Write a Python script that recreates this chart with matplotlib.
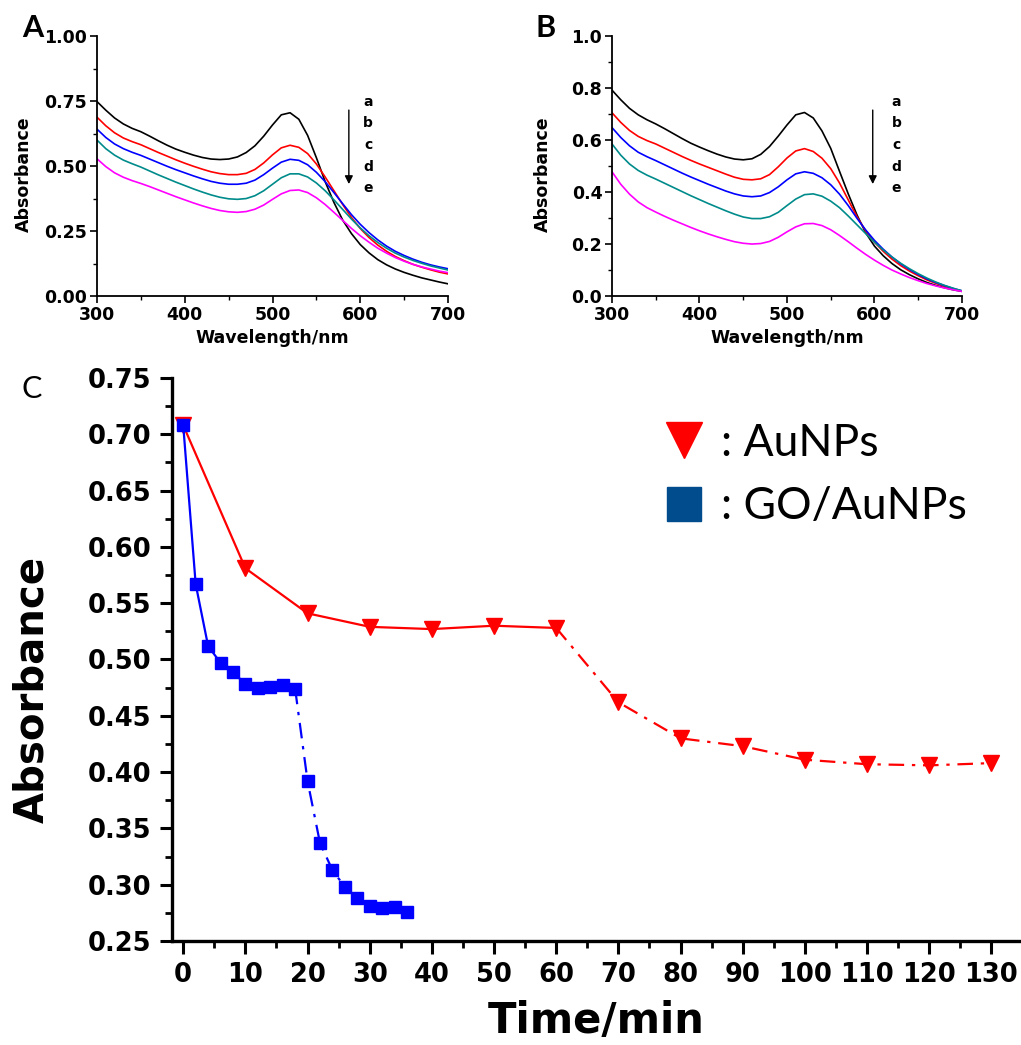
import numpy as np
import matplotlib
matplotlib.use('Agg')
import matplotlib.pyplot as plt
from matplotlib.lines import Line2D
from matplotlib.ticker import MultipleLocator, FormatStrFormatter

plt.rcParams['font.family'] = 'DejaVu Sans'
plt.rcParams['font.weight'] = 'bold'
plt.rcParams['axes.labelweight'] = 'bold'

# ---- panel A / B spectra (every 10 nm) ----
wavelength = list(range(300, 701, 10))

a_black = [0.748, 0.715, 0.685, 0.662, 0.645, 0.632, 0.615, 0.597, 0.580, 0.565, 0.553,
           0.542, 0.533, 0.527, 0.525, 0.527, 0.535, 0.552, 0.578, 0.615, 0.658, 0.697,
           0.705, 0.680, 0.618, 0.532, 0.440, 0.360, 0.292, 0.240, 0.198, 0.166, 0.140,
           0.120, 0.104, 0.091, 0.080, 0.070, 0.062, 0.054, 0.047]
a_red = [0.688, 0.655, 0.628, 0.608, 0.594, 0.582, 0.567, 0.552, 0.538, 0.524, 0.511,
         0.499, 0.488, 0.478, 0.471, 0.467, 0.467, 0.472, 0.487, 0.512, 0.543, 0.570,
         0.580, 0.572, 0.548, 0.508, 0.458, 0.405, 0.352, 0.302, 0.260, 0.225, 0.196,
         0.172, 0.152, 0.136, 0.122, 0.111, 0.101, 0.092, 0.085]
a_blue = [0.642, 0.610, 0.585, 0.567, 0.553, 0.541, 0.527, 0.513, 0.499, 0.486, 0.474,
          0.462, 0.451, 0.441, 0.434, 0.430, 0.430, 0.434, 0.446, 0.467, 0.492, 0.515,
          0.526, 0.522, 0.505, 0.476, 0.440, 0.398, 0.355, 0.313, 0.276, 0.244, 0.216,
          0.192, 0.172, 0.156, 0.142, 0.130, 0.120, 0.112, 0.105]
a_teal = [0.600, 0.567, 0.542, 0.523, 0.509, 0.496, 0.481, 0.466, 0.452, 0.438, 0.425,
          0.412, 0.400, 0.389, 0.380, 0.374, 0.372, 0.375, 0.386, 0.405, 0.430, 0.455,
          0.470, 0.470, 0.458, 0.435, 0.405, 0.370, 0.333, 0.296, 0.262, 0.232, 0.206,
          0.184, 0.165, 0.150, 0.137, 0.126, 0.116, 0.108, 0.100]
a_magenta = [0.528, 0.498, 0.474, 0.457, 0.444, 0.433, 0.421, 0.408, 0.395, 0.382, 0.370,
             0.358, 0.347, 0.337, 0.329, 0.324, 0.322, 0.325, 0.334, 0.350, 0.372, 0.393,
             0.406, 0.408, 0.398, 0.378, 0.352, 0.322, 0.291, 0.260, 0.232, 0.207, 0.184,
             0.165, 0.148, 0.134, 0.122, 0.112, 0.104, 0.096, 0.090]

b_black = [0.792, 0.755, 0.722, 0.697, 0.678, 0.662, 0.644, 0.625, 0.606, 0.588, 0.573,
           0.559, 0.546, 0.535, 0.527, 0.524, 0.528, 0.545, 0.575, 0.615, 0.658, 0.697,
           0.706, 0.685, 0.635, 0.568, 0.480, 0.393, 0.312, 0.243, 0.192, 0.155, 0.125,
           0.101, 0.082, 0.066, 0.052, 0.041, 0.032, 0.024, 0.018]
b_red = [0.705, 0.668, 0.637, 0.614, 0.598, 0.585, 0.569, 0.553, 0.537, 0.522, 0.508,
         0.495, 0.482, 0.469, 0.457, 0.449, 0.447, 0.451, 0.467, 0.497, 0.531, 0.558,
         0.567, 0.556, 0.530, 0.490, 0.435, 0.370, 0.305, 0.250, 0.207, 0.172, 0.142,
         0.117, 0.096, 0.078, 0.062, 0.049, 0.037, 0.027, 0.019]
b_blue = [0.648, 0.610, 0.578, 0.553, 0.536, 0.521, 0.505, 0.489, 0.473, 0.458, 0.444,
          0.430, 0.417, 0.404, 0.393, 0.385, 0.382, 0.385, 0.398, 0.420, 0.447, 0.470,
          0.478, 0.472, 0.455, 0.428, 0.392, 0.348, 0.299, 0.254, 0.214, 0.180, 0.150,
          0.124, 0.102, 0.083, 0.066, 0.052, 0.040, 0.029, 0.020]
b_teal = [0.585, 0.542, 0.508, 0.483, 0.465, 0.450, 0.434, 0.418, 0.402, 0.386, 0.371,
          0.356, 0.342, 0.328, 0.315, 0.304, 0.298, 0.298, 0.305, 0.322, 0.348, 0.373,
          0.390, 0.393, 0.384, 0.365, 0.340, 0.308, 0.274, 0.240, 0.207, 0.177, 0.150,
          0.126, 0.105, 0.086, 0.069, 0.054, 0.041, 0.030, 0.020]
b_magenta = [0.478, 0.430, 0.392, 0.362, 0.340, 0.323, 0.307, 0.292, 0.278, 0.264, 0.251,
             0.239, 0.228, 0.218, 0.209, 0.203, 0.200, 0.202, 0.210, 0.226, 0.247, 0.266,
             0.278, 0.279, 0.271, 0.255, 0.233, 0.209, 0.184, 0.160, 0.138, 0.118, 0.100,
             0.085, 0.071, 0.059, 0.048, 0.039, 0.031, 0.024, 0.018]

curve_labels = ['a', 'b', 'c', 'd', 'e']
curve_colors = ['black', '#ff0000', '#0000ff', '#008b8b', '#ff00ff']

# ---- panel C kinetics ----
au_time = [0, 10, 20, 30, 40, 50, 60, 70, 80, 90, 100, 110, 120, 130]
au_abs = [0.708, 0.581, 0.541, 0.529, 0.527, 0.530, 0.528, 0.462, 0.430, 0.423,
          0.411, 0.407, 0.406, 0.408]
go_time = [0, 2, 4, 6, 8, 10, 12, 14, 16, 18, 20, 22, 24, 26, 28, 30, 32, 34, 36]
go_abs = [0.708, 0.567, 0.512, 0.497, 0.489, 0.478, 0.475, 0.476, 0.477, 0.474,
          0.392, 0.337, 0.313, 0.298, 0.288, 0.281, 0.279, 0.280, 0.276]
au_break = 60   # solid up to here, dash-dot after
go_break = 18

fig = plt.figure(figsize=(10.21, 10.45), dpi=100)


def spectra_panel(ax, curves, ymax, ymajor, yfmt, arrow_x, letter_x, ylab_x):
    for vals, col in zip(curves, curve_colors):
        ax.plot(wavelength, vals, color=col, lw=1.2)
    ax.set_xlim(300, 700)
    ax.set_ylim(0, ymax)
    ax.xaxis.set_major_locator(MultipleLocator(100))
    ax.xaxis.set_minor_locator(MultipleLocator(50))
    ax.yaxis.set_major_locator(MultipleLocator(ymajor))
    ax.yaxis.set_minor_locator(MultipleLocator(ymajor / 2))
    ax.yaxis.set_major_formatter(FormatStrFormatter(yfmt))
    for s in ['top', 'right']:
        ax.spines[s].set_visible(False)
    for s in ['left', 'bottom']:
        ax.spines[s].set_linewidth(1.3)
    ax.tick_params(which='major', direction='out', length=5, width=1.2, labelsize=12.5, pad=2)
    ax.tick_params(which='minor', direction='out', length=3, width=1.0)
    ax.set_xlabel('Wavelength/nm', fontsize=12.5, labelpad=4)
    ax.set_ylabel('Absorbance', fontsize=12.5)
    ax.yaxis.set_label_coords(ylab_x, 0.47)
    ax.annotate('', xy=(arrow_x, 0.42 * ymax), xytext=(arrow_x, 0.726 * ymax),
                arrowprops=dict(arrowstyle='-|>', color='black', lw=1.0, mutation_scale=12))
    for i, lab in enumerate(curve_labels):
        ax.text(letter_x, (0.747 - 0.0832 * i) * ymax, lab, fontsize=10, ha='center', va='center')


axA = fig.add_axes([0.095, 0.7167, 0.3438, 0.2488])
spectra_panel(axA, [a_black, a_red, a_blue, a_teal, a_magenta], 1.0, 0.25, '%.2f', 587, 609, -0.182)

axB = fig.add_axes([0.5994, 0.7167, 0.3428, 0.2488])
spectra_panel(axB, [b_black, b_red, b_blue, b_teal, b_magenta], 1.0, 0.2, '%.1f', 598, 625, -0.171)

axC = fig.add_axes([0.1685, 0.0995, 0.8305, 0.5388])
ia = au_time.index(au_break)
ig = go_time.index(go_break)
axC.plot(au_time[:ia + 1], au_abs[:ia + 1], color='#ff0000', lw=1.6, ls='-')
axC.plot(au_time[ia:], au_abs[ia:], color='#ff0000', lw=1.6, ls=(0, (7, 3.5, 1.5, 3.5)))
axC.plot(au_time, au_abs, color='#ff0000', ls='none', marker='v', ms=11)
axC.plot(go_time[:ig + 1], go_abs[:ig + 1], color='#0000ff', lw=1.6, ls='-')
axC.plot(go_time[ig:], go_abs[ig:], color='#0000ff', lw=1.6, ls=(0, (7, 3.5, 1.5, 3.5)))
axC.plot(go_time, go_abs, color='#0000ff', ls='none', marker='s', ms=9)

axC.set_xlim(-1.8, 134.6)
axC.set_ylim(0.25, 0.75)
axC.xaxis.set_major_locator(MultipleLocator(10))
axC.xaxis.set_minor_locator(MultipleLocator(5))
axC.yaxis.set_major_locator(MultipleLocator(0.05))
axC.yaxis.set_minor_locator(MultipleLocator(0.025))
axC.yaxis.set_major_formatter(FormatStrFormatter('%.2f'))
for s in ['top', 'right']:
    axC.spines[s].set_visible(False)
for s in ['left', 'bottom']:
    axC.spines[s].set_linewidth(2.4)
axC.tick_params(which='major', direction='out', length=9, width=2.2, labelsize=18.5, pad=6)
axC.tick_params(which='minor', direction='out', length=5, width=2.0)
axC.set_xlabel('Time/min', fontsize=30, labelpad=9)
axC.set_ylabel('Absorbance', fontsize=29)
axC.yaxis.set_label_coords(-0.1415, 0.446)

handles = [Line2D([], [], color='#ff0000', marker='v', ls='none', ms=26),
           Line2D([], [], color='#004c8c', marker='s', ls='none', ms=24)]
axC.legend(handles, [': AuNPs', ': GO/AuNPs'], loc='upper left',
           bbox_to_anchor=(0.53, 0.991), frameon=False, handlelength=1.0,
           handletextpad=0.35, labelspacing=0.5,
           prop={'family': 'Lato', 'size': 32, 'weight': 'normal'})

fig.text(0.0215, 0.9646, 'A', fontsize=22, family='Lato', weight='bold')
fig.text(0.524, 0.9646, 'B', fontsize=22, family='Lato', weight='bold')
fig.text(0.0215, 0.619, 'C', fontsize=22, family='Lato', weight='normal')

fig.savefig('out.png', dpi=100)
